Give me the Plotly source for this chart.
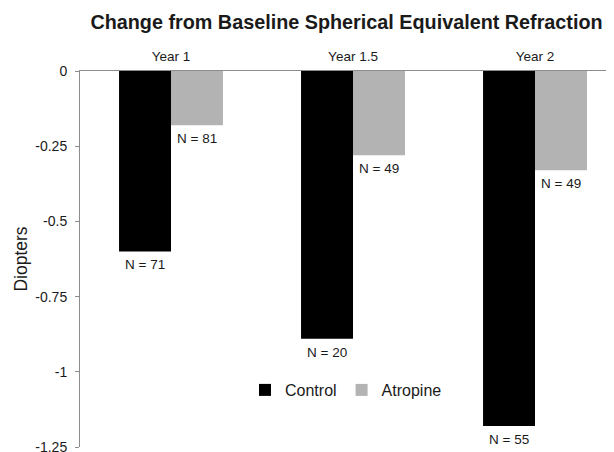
import plotly.graph_objects as go

categories = ["Year 1", "Year 1.5", "Year 2"]
control_values = [-0.60, -0.89, -1.18]
atropine_values = [-0.18, -0.28, -0.33]
control_n = ["N = 71", "N = 20", "N = 55"]
atropine_n = ["N = 81", "N = 49", "N = 49"]
y_tick_values = [0, -0.25, -0.5, -0.75, -1, -1.25]
y_tick_labels = ["0", "-0.25", "-0.5", "-0.75", "-1", "-1.25"]

FONT = "Liberation Sans, Arial, sans-serif"
# the page body has an 8px default margin, so the figure is sized to fill the rest
OFF = 8
W, H = 614 - OFF, 452 - OFF

fig = go.Figure()
fig.add_trace(go.Bar(name="Control", x=categories, y=control_values,
                     marker=dict(color="#000000", line=dict(width=0))))
fig.add_trace(go.Bar(name="Atropine", x=categories, y=atropine_values,
                     marker=dict(color="#b3b3b3", line=dict(width=0))))

annotations = []
for cat, v, t in zip(categories, control_values, control_n):
    annotations.append(dict(x=cat, y=v, xref="x", yref="y", text=t, showarrow=False,
                            xshift=-26, yshift=-4, yanchor="top", xanchor="center",
                            font=dict(size=13.5, color="#1a1a1a", family=FONT)))
for cat, v, t in zip(categories, atropine_values, atropine_n):
    annotations.append(dict(x=cat, y=v, xref="x", yref="y", text=t, showarrow=False,
                            xshift=26, yshift=-4, yanchor="top", xanchor="center",
                            font=dict(size=13.5, color="#1a1a1a", family=FONT)))

left, top, bottom = 80 - OFF, 71 - OFF, 452 - 447
plot_w = W - left

fig.update_layout(
    width=W, height=H,
    margin=dict(l=left, r=0, t=top, b=bottom, autoexpand=False),
    paper_bgcolor="white", plot_bgcolor="white",
    font=dict(family=FONT, color="#1a1a1a"),
    barmode="group", bargap=0.429, bargroupgap=0,
    title=dict(text="<b>Change from Baseline Spherical Equivalent Refraction</b>",
               x=(346.5 - OFF) / W, xref="container", xanchor="center",
               y=1 - (22 - OFF) / H, yref="container", yanchor="middle",
               font=dict(size=19.8, color="#1a1a1a", family=FONT)),
    xaxis=dict(side="top", range=[-0.5, 2.434], showline=True, linecolor="#8c8c8c",
               linewidth=1, ticks="", showgrid=False, zeroline=False,
               tickfont=dict(size=13.5, family=FONT, color="#1a1a1a"),
               ticklabelstandoff=4),
    yaxis=dict(range=[-1.25, 0], tickvals=y_tick_values, ticktext=y_tick_labels,
               showline=True, linecolor="#8c8c8c", linewidth=1,
               ticks="outside", ticklen=4, tickcolor="#8c8c8c",
               showgrid=False, zeroline=False, ticklabelstandoff=5,
               ticklabeloverflow="allow",
               tickfont=dict(size=14, family=FONT, color="#1a1a1a"),
               title=dict(text="Diopters", standoff=3,
                          font=dict(size=17.5, family=FONT, color="#1a1a1a"))),
    legend=dict(orientation="h", x=(346 - 80) / plot_w, xanchor="center",
                y=1 - (390 - OFF) / H, yanchor="middle", yref="container",
                font=dict(size=16, family=FONT, color="#1a1a1a"),
                bgcolor="rgba(0,0,0,0)", itemwidth=30),
    annotations=annotations,
)

fig.write_html("out.html")
